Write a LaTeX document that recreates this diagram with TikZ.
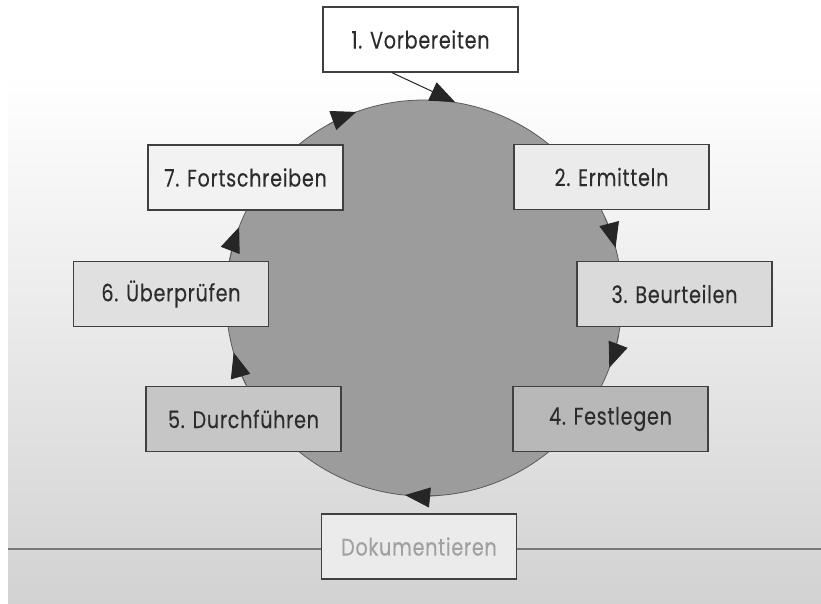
\documentclass[tikz,border=0pt]{standalone}
\usepackage{fontspec}
\setmainfont{Poppins}[FakeStretch=0.8, LetterSpace=3, FakeBold=0.2]
\usetikzlibrary{arrows.meta,calc}
\definecolor{bgbot}{HTML}{D2D2D2}
\definecolor{ink}{HTML}{2C2C2C}
\definecolor{edge}{HTML}{404040}
\definecolor{circfill}{HTML}{9C9C9C}
\definecolor{circline}{HTML}{5A5A5A}
\definecolor{fA}{HTML}{FFFFFF}
\definecolor{fB}{HTML}{F2F2F2}
\definecolor{fC}{HTML}{EBEBEB}
\definecolor{fD}{HTML}{E0E0E0}
\definecolor{fE}{HTML}{DADADA}
\definecolor{fF}{HTML}{C6C6C6}
\definecolor{fG}{HTML}{B8B8B8}
\definecolor{doctext}{HTML}{A0A0A0}
\definecolor{rulecol}{HTML}{767676}
\definecolor{tipcol}{HTML}{262626}
\begin{document}
\begin{tikzpicture}[x=1pt,y=1pt,
  stepbox/.style={draw=edge, line width=1.4pt, minimum width=195pt, minimum height=65pt,
    inner sep=0pt, text=ink, font=\fontsize{24}{28}\selectfont},
  circ/.style={circle, minimum size=396pt, inner sep=0pt, fill=circfill, draw=circline, line width=0.8pt},
  cyctip/.style={draw=circline, line width=0.8pt, -{Triangle[length=25pt,width=20pt,color=tipcol,fill=tipcol]}},
  link/.style={draw=tipcol, line width=1pt, -{Triangle[length=25pt,width=20pt]}},
  rule/.style={draw=rulecol, line width=2pt}]
\useasboundingbox (0,0) rectangle (821,-603);
\fill[white] (0,0) rectangle (821,-603);
\shade[top color=white,bottom color=bgbot] (8,-75) rectangle (821,-603);
\node[circ] (cyc) at (424,-298) {};
\coordinate (lineL) at (8,-549);
\coordinate (lineR) at (821,-549);
\draw[rule] (lineL) -- (lineR);
\node[stepbox, fill=fA] (v1) at (420.5,-39.5) {1. Vorbereiten};
\node[stepbox, fill=fB] (v7) at (245.5,-177.5) {7. Fortschreiben};
\node[stepbox, fill=fC] (v2) at (611.5,-177) {2. Ermitteln};
\node[stepbox, fill=fD] (v6) at (171,-294) {6. Überprüfen};
\node[stepbox, fill=fE] (v3) at (674.5,-294) {3. Beurteilen};
\node[stepbox, fill=fF] (v5) at (243.5,-419) {5. Durchführen};
\node[stepbox, fill=fG] (v4) at (610.5,-419) {4. Festlegen};
\node[stepbox, fill=fC, text=doctext] (doc) at (419,-546.5) {Dokumentieren};
\foreach \a/\b in {119/110, 169/159, 24/14.7, -11/-20.6, 206/196, 274/264.5}{
  \draw[cyctip] ($(cyc.center)+(\a:198pt)$) arc[start angle=\a, end angle=\b, radius=198pt];
}
\draw[link] ($(v1.south west)!0.355!(v1.south east)$) -- (cyc.81.6);
\end{tikzpicture}
\end{document}
